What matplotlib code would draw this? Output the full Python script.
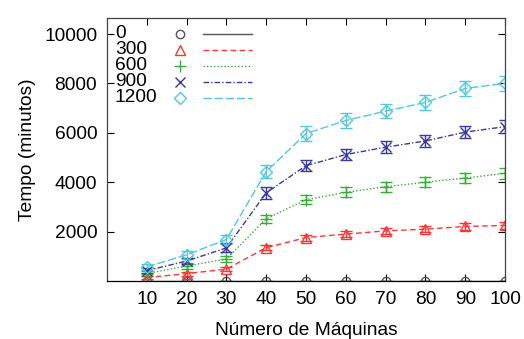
import numpy as np
import matplotlib.pyplot as plt

plt.rcParams['font.family'] = ['Liberation Sans', 'DejaVu Sans']

maquinas = [10, 20, 30, 40, 50, 60, 70, 80, 90, 100]
series_labels = ['0', '300', '600', '900', '1200']

tempo_0 = [0, 0, 0, 0, 0, 0, 0, 0, 0, 0]
tempo_300 = [140, 300, 480, 1350, 1760, 1900, 2030, 2100, 2210, 2250]
tempo_600 = [300, 610, 890, 2520, 3290, 3590, 3820, 4000, 4170, 4360]
tempo_900 = [420, 810, 1340, 3570, 4670, 5120, 5420, 5670, 6030, 6250]
tempo_1200 = [570, 1060, 1680, 4430, 5970, 6500, 6880, 7230, 7800, 8000]

erro_0 = [0] * 10
erro_300 = [70, 80, 90, 110, 120, 120, 120, 130, 130, 140]
erro_600 = [90, 110, 130, 160, 180, 200, 200, 210, 220, 230]
erro_900 = [110, 130, 180, 230, 230, 240, 240, 250, 250, 260]
erro_1200 = [120, 150, 200, 260, 290, 300, 300, 310, 310, 320]

tempos = [tempo_0, tempo_300, tempo_600, tempo_900, tempo_1200]
erros = [erro_0, erro_300, erro_600, erro_900, erro_1200]
colors = ['#555555', '#ff3535', '#35b035', '#3838a0', '#50c8e0']
markers = ['o', '^', '+', 'x', 'D']
msizes = [6, 7, 8, 7, 6.5]
styles = ['-', (0, (4, 2.5)), (0, (1, 1.5)), (0, (4, 1.5, 1, 1.5)), (0, (6, 2))]

fs = 13.8

fig = plt.figure(figsize=(5.24, 3.39), dpi=100)
ax = fig.add_axes([0.204, 0.171, 0.76, 0.776])

for t, e, c, m, ms, ls in zip(tempos, erros, colors, markers, msizes, styles):
    ax.errorbar(maquinas, t, yerr=e, color=c, linestyle=ls, linewidth=1.0,
                marker=m, markersize=ms, markerfacecolor='none',
                markeredgecolor=c, markeredgewidth=1.0,
                capsize=4, elinewidth=1.0, capthick=1.0)

# legend, gnuplot style: label, point, line sample
for i, (lab, c, m, ms, ls) in enumerate(zip(series_labels, colors, markers, msizes, styles)):
    yy = 0.94 - i * 0.061
    ax.text(0.02, yy, lab, transform=ax.transAxes, fontsize=fs,
            va='center', ha='left')
    ax.plot([0.183], [yy], transform=ax.transAxes, marker=m, markersize=ms,
            markerfacecolor='none', markeredgecolor=c, markeredgewidth=1.0,
            linestyle='none')
    ax.plot([0.242, 0.365], [yy, yy], transform=ax.transAxes, color=c,
            linestyle=ls, linewidth=1.0)

ax.set_xlim(0, 100)
ax.set_ylim(0, 10650)
ax.set_xticks(maquinas)
ax.set_yticks([2000, 4000, 6000, 8000, 10000])
ax.tick_params(direction='in', top=True, right=True, labelsize=fs,
               length=5, width=0.8, pad=7)
for s in ax.spines.values():
    s.set_linewidth(0.9)
    s.set_color('#444444')
ax.spines['bottom'].set_color('black')

ax.set_xlabel('Número de Máquinas', fontsize=fs, labelpad=10)
ax.set_ylabel('Tempo (minutos)', fontsize=fs, labelpad=6)

fig.savefig('out.png', dpi=100)
